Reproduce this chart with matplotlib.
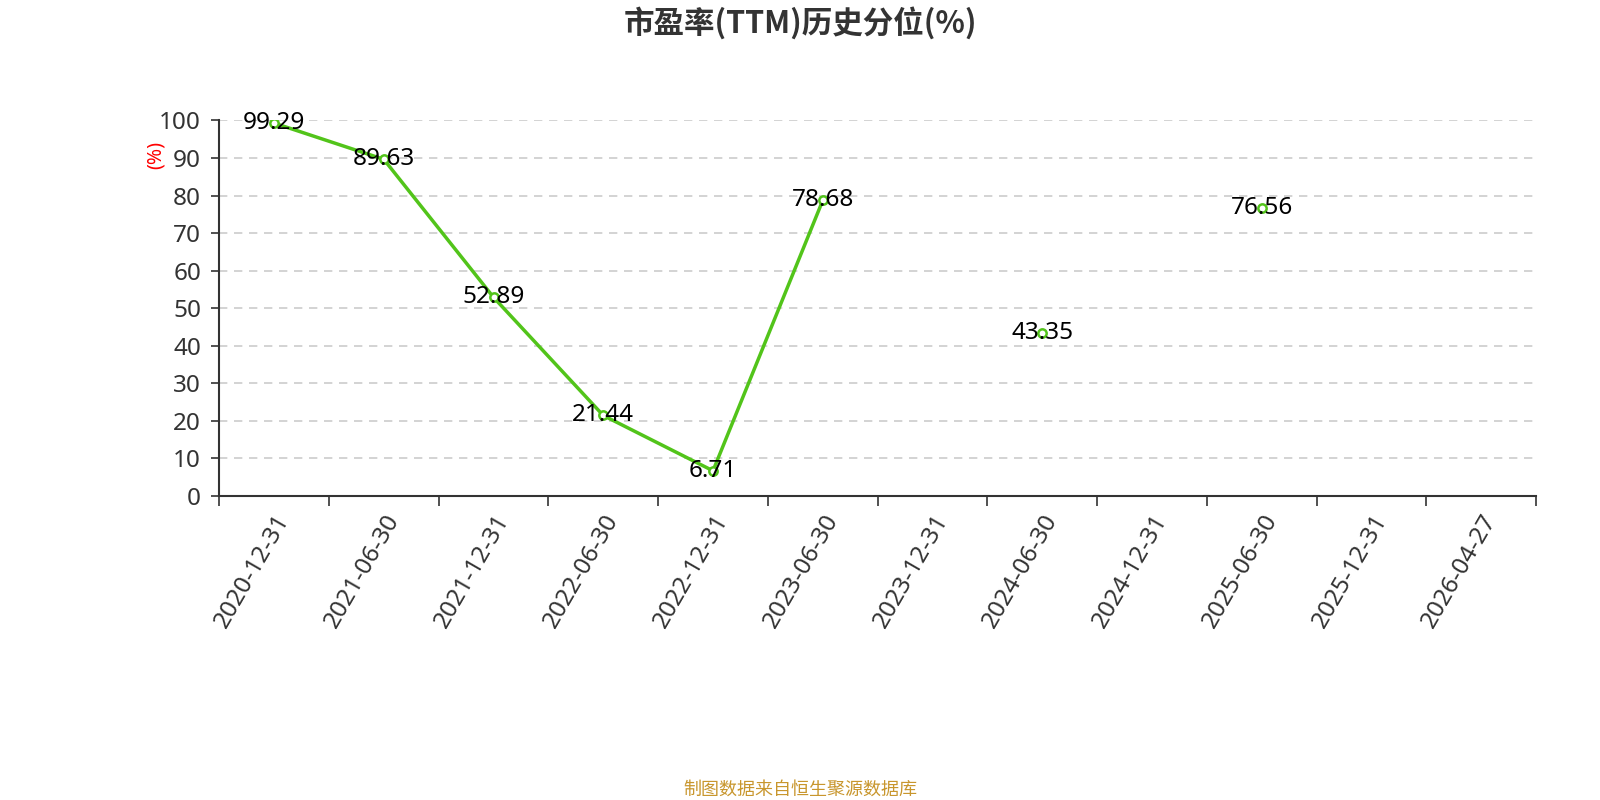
import matplotlib
matplotlib.use('Agg')
import matplotlib.pyplot as plt
import numpy as np

plt.rcParams['font.family'] = ['Noto Sans', 'Noto Sans CJK SC', 'DejaVu Sans']

dates = ['2020-12-31', '2021-06-30', '2021-12-31', '2022-06-30', '2022-12-31', '2023-06-30',
         '2023-12-31', '2024-06-30', '2024-12-31', '2025-06-30', '2025-12-31', '2026-04-27']
pe_pct = [99.29, 89.63, 52.89, 21.44, 6.71, 78.68,
          None, 43.35, None, 76.56, None, None]

y = np.array([np.nan if v is None else v for v in pe_pct], dtype=float)
x = np.arange(len(dates))

fig = plt.figure(figsize=(16, 8), dpi=100)
ax = fig.add_axes([0.137, 0.38, 0.823, 0.4695])

green = '#52c41a'
ax.plot(x, y, color=green, linewidth=2.5, marker='o', markersize=6,
        markerfacecolor='white', markeredgecolor=green, markeredgewidth=1.8, zorder=3)

for xi, v in zip(x, pe_pct):
    if v is None:
        continue
    ax.text(xi, v, f'{v:.2f}', ha='center', va='center', fontsize=17.5, color='black', zorder=4)

ax.set_xlim(-0.5, len(dates) - 0.5)
ax.set_ylim(0, 100)
ax.set_yticks(range(0, 101, 10))
ax.tick_params(axis='y', labelsize=17.5, colors='#333333', length=6, width=1.2, pad=7)
ax.yaxis.grid(True, linestyle=(0, (5, 4)), color='#cccccc', linewidth=1.2)
ax.set_axisbelow(True)

# category boundaries carry the tick marks, labels sit at band centers
ax.set_xticks(np.arange(-0.5, len(dates), 1.0))
ax.set_xticklabels([])
ax.tick_params(axis='x', which='major', length=7, width=1.2, color='#333333')
ax.set_xticks(x, minor=True)
ax.set_xticklabels(dates, minor=True, rotation=60, ha='right', va='top',
                   rotation_mode='anchor', fontsize=17.5, color='#333333')
ax.tick_params(axis='x', which='minor', length=0, pad=10)

for side in ['top', 'right']:
    ax.spines[side].set_visible(False)
for side in ['left', 'bottom']:
    ax.spines[side].set_color('#333333')
    ax.spines[side].set_linewidth(1.5)

fig.text(156 / 1600, 1 - 155 / 800, '(%)', rotation=90, color='red', fontsize=14,
         ha='center', va='center')
fig.text(0.5, 1 - 23 / 800, '市盈率(TTM)历史分位(%)', ha='center', va='center',
         fontsize=22, fontweight='bold', color='#333333', family=['Noto Sans CJK SC'])
fig.text(0.5, 1 - 790 / 800, '制图数据来自恒生聚源数据库', ha='center', va='center',
         fontsize=13, color='#c8962d', family=['Noto Sans CJK SC'])

fig.savefig('out.png', dpi=100)
